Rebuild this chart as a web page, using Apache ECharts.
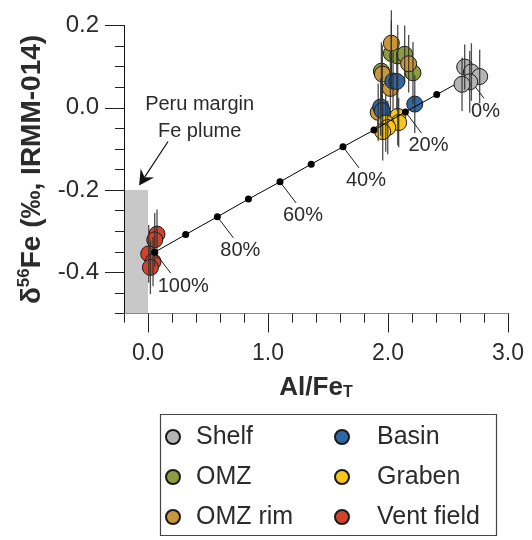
<!DOCTYPE html>
<html><head><meta charset="utf-8">
<script src="https://cdn.jsdelivr.net/npm/echarts@6/dist/echarts.min.js"></script>
<style>html,body{margin:0;padding:0;background:#fff}#c{width:532px;height:540px}</style>
</head><body><div id="c"></div>
<script>
const FONT = '"Liberation Sans", Arial, Helvetica, sans-serif';
const TXT = '#2b2b2b';

// Axis tick values
const xTickValues = [0, 1, 2, 3];
const yTickValues = [-0.4, -0.2, 0, 0.2];

// Grey "Peru margin Fe plume" band
const shadeX = [-0.2, 0];
const shadeY = [-0.5, -0.2];

// Sample groups: Al/FeT, d56Fe, error
const shelfX = [2.639, 2.695, 2.764, 2.681, 2.617];
const shelfY = [0.099, 0.087, 0.076, 0.063, 0.057];
const shelfE = [0.055, 0.07, 0.065, 0.075, 0.065];

const omzX = [1.945, 2.028, 2.081, 2.139, 2.208];
const omzY = [0.089, 0.132, 0.126, 0.130, 0.085];
const omzE = [0.07, 0.08, 0.075, 0.07, 0.075];

const omzRimX = [2.028, 1.953, 2.172, 2.020, 1.918];
const omzRimY = [0.157, 0.082, 0.107, 0.047, -0.011];
const omzRimE = [0.08, 0.07, 0.07, 0.07, 0.07];

const basinX = [2.042, 2.073, 2.223, 1.939, 1.952];
const basinY = [0.065, 0.064, 0.009, 0.002, -0.007];
const basinE = [0.07, 0.07, 0.07, 0.07, 0.07];

const grabenX = [2.081, 2.089, 1.981, 1.998, 1.956];
const grabenY = [-0.021, -0.036, -0.037, -0.048, -0.058];
const grabenE = [0.07, 0.06, 0.07, 0.065, 0.07];

const ventX = [0.075, 0.056, 0.006, 0.042, 0.020];
const ventY = [-0.307, -0.321, -0.355, -0.374, -0.388];
const ventE = [0.06, 0.065, 0.07, 0.06, 0.065];

// Mixing line (0% .. 100% vent fluid)
const mixX = [2.667, 2.406, 2.145, 1.883, 1.625, 1.360, 1.100, 0.837, 0.578, 0.314, 0.056];
const mixY = [0.074, 0.032, -0.010, -0.054, -0.095, -0.137, -0.180, -0.222, -0.265, -0.308, -0.351];
const mixLabels = ['0%', '', '20%', '', '40%', '', '60%', '', '80%', '', '100%'];

// Annotation (data coordinates)
const plumeText = ['Peru margin', 'Fe plume'];
const plumeTextPos = [[0.43, 0.007], [0.43, -0.057]];
const arrowFrom = [0.167, -0.082];
const arrowTip = [-0.074, -0.189];

const groups = [
  {name: 'Shelf', x: shelfX, y: shelfY, e: shelfE, color: '#b3b4b3', z: 6},
  {name: 'OMZ', x: omzX, y: omzY, e: omzE, color: '#8e9b40', z: 2},
  {name: 'OMZ rim', x: omzRimX, y: omzRimY, e: omzRimE, color: '#c9963b', z: 2},
  {name: 'Basin', x: basinX, y: basinY, e: basinE, color: '#3168a1', z: 2},
  {name: 'Graben', x: grabenX, y: grabenY, e: grabenE, color: '#f8c61d', z: 2},
  {name: 'Vent field', x: ventX, y: ventY, e: ventE, color: '#d1432a', z: 2}
];

const chart = echarts.init(document.getElementById('c'));

const series = [];
groups.forEach((g, gi) => {
  series.push({
    type: 'scatter', name: g.name, z: g.z,
    data: g.x.map((v, i) => [v, g.y[i]]),
    symbol: 'circle', symbolSize: 16,
    itemStyle: {color: g.color, borderColor: '#1a1a1a', borderWidth: 1, opacity: 1},
    emphasis: {disabled: true},
    markArea: gi === 0 ? {
      silent: true, z: 0,
      itemStyle: {color: '#c7c8c7'},
      data: [[{coord: [shadeX[0], shadeY[0]]}, {coord: [shadeX[1], shadeY[1]]}]]
    } : undefined
  });
  series.push({
    type: 'custom', name: g.name + ' err', z: g.z + 0.5,
    data: g.x.map((v, i) => [v, g.y[i] - g.e[i], g.y[i] + g.e[i]]),
    renderItem: (params, api) => {
      const p1 = api.coord([api.value(0), api.value(1)]);
      const p2 = api.coord([api.value(0), api.value(2)]);
      return {type: 'line', shape: {x1: p1[0], y1: p1[1], x2: p2[0], y2: p2[1]},
        style: {stroke: '#2e2e2e', lineWidth: 1.3, opacity: 0.85}};
    },
    silent: true
  });
});

series.push({
  type: 'line', name: 'mix', z: 4,
  data: mixX.map((v, i) => [v, mixY[i]]),
  symbol: 'circle', symbolSize: 7, showSymbol: true,
  lineStyle: {color: '#000', width: 1},
  itemStyle: {color: '#000', borderWidth: 0},
  emphasis: {disabled: true}, silent: true
});

series.push({
  type: 'custom', name: 'mixlabels', z: 4, silent: true,
  data: mixX.map((v, i) => [v, mixY[i], i]).filter(d => mixLabels[d[2]] !== ''),
  renderItem: (params, api) => {
    const p = api.coord([api.value(0), api.value(1)]);
    const txt = mixLabels[api.value(2)];
    return {type: 'group', children: [
      {type: 'line', shape: {x1: p[0], y1: p[1], x2: p[0] + 16, y2: p[1] + 21},
        style: {stroke: '#1a1a1a', lineWidth: 1}},
      {type: 'text', style: {text: txt, x: p[0] + 3, y: p[1] + 34, fill: TXT,
        fontSize: 20, fontFamily: FONT, align: 'left', verticalAlign: 'middle'}}
    ]};
  }
});

const legendCommon = {
  orient: 'vertical', top: 424, padding: 0, itemHeight: 14, itemWidth: 14, itemGap: 14,
  icon: 'circle', selectedMode: false
};

const option = {
  animation: false,
  backgroundColor: '#fff',
  textStyle: {fontFamily: FONT},
  grid: {left: 124, right: 24, top: 25.5, bottom: 226.5},
  xAxis: [
    {type: 'value', min: -0.2, max: 3, interval: 0.2, position: 'bottom',
      axisLine: {show: true, onZero: false, lineStyle: {color: '#8a8a8a', width: 1}},
      axisTick: {show: true, inside: false, length: 9, lineStyle: {color: '#222'}},
      axisLabel: {show: false}, splitLine: {show: false}},
    {type: 'value', min: -0.2, max: 3, position: 'bottom',
      axisLine: {show: false, onZero: false},
      axisTick: {show: true, inside: false, length: 19, customValues: xTickValues, lineStyle: {color: '#222'}},
      axisLabel: {show: true, customValues: xTickValues, formatter: v => v.toFixed(1),
        fontSize: 23, color: TXT, margin: 29, fontFamily: FONT},
      splitLine: {show: false},
      name: '{b|Al/Fe}{s|T}', nameLocation: 'middle', nameGap: 61,
      nameTextStyle: {rich: {
        b: {fontSize: 26, fontWeight: 'bold', color: TXT, fontFamily: FONT, lineHeight: 26, verticalAlign: 'top'},
        s: {fontSize: 16, fontWeight: 'bold', color: TXT, fontFamily: FONT, lineHeight: 16, verticalAlign: 'bottom', padding: [14, 0, 0, 0]}
      }}}
  ],
  yAxis: [
    {type: 'value', min: -0.5, max: 0.2, interval: 0.05, position: 'left',
      axisLine: {show: true, onZero: false, lineStyle: {color: '#111', width: 1}},
      axisTick: {show: true, inside: false, length: 9, lineStyle: {color: '#222'}},
      axisLabel: {show: false}, splitLine: {show: false}},
    {type: 'value', min: -0.5, max: 0.2, position: 'left',
      axisLine: {show: false, onZero: false},
      axisTick: {show: true, inside: false, length: 19, customValues: yTickValues, lineStyle: {color: '#222'}},
      axisLabel: {show: true, customValues: yTickValues, formatter: v => v.toFixed(1),
        fontSize: 24, color: TXT, margin: 25, fontFamily: FONT},
      splitLine: {show: false},
      name: '{b|δ}{p|56}{b|Fe (‰, IRMM-014)}', nameLocation: 'middle', nameRotate: 90, nameGap: 70,
      nameTextStyle: {rich: {
        b: {fontSize: 28, fontWeight: 'bold', color: TXT, fontFamily: FONT, lineHeight: 31, verticalAlign: 'bottom'},
        p: {fontSize: 17, fontWeight: 'bold', color: TXT, fontFamily: FONT, lineHeight: 17, verticalAlign: 'top'}
      }}}
  ],
  legend: [
    Object.assign({}, legendCommon, {left: 165, data: ['Shelf', 'OMZ', 'OMZ rim'],
      textStyle: {fontSize: 25, color: TXT, fontFamily: FONT, lineHeight: 26, padding: [0, 0, 0, 11]}}),
    Object.assign({}, legendCommon, {left: 334, data: ['Basin', 'Graben', 'Vent field'],
      textStyle: {fontSize: 25, color: TXT, fontFamily: FONT, lineHeight: 26, padding: [0, 0, 0, 23]}})
  ],
  series: series
};

chart.setOption(option);

function px(pt) { return chart.convertToPixel({xAxisIndex: 0, yAxisIndex: 0}, pt); }
const a0 = px(arrowFrom), a1 = px(arrowTip);
const dx = a1[0] - a0[0], dy = a1[1] - a0[1];
const L = Math.hypot(dx, dy), ux = dx / L, uy = dy / L, nx = -uy, ny = ux;
const headLen = 15, headW = 8, notch = 10;
const back = [a1[0] - ux * headLen, a1[1] - uy * headLen];
const nt = [a1[0] - ux * notch, a1[1] - uy * notch];
const graphics = [
  {type: 'line', shape: {x1: a0[0], y1: a0[1], x2: nt[0], y2: nt[1]}, style: {stroke: '#111', lineWidth: 1.2}},
  {type: 'polygon', shape: {points: [a1, [back[0] + nx * headW, back[1] + ny * headW], nt, [back[0] - nx * headW, back[1] - ny * headW]]},
    style: {fill: '#111'}},
  {type: 'rect', shape: {x: 160.5, y: 414.5, width: 336, height: 121}, style: {fill: 'none', stroke: '#444', lineWidth: 1.2}, z: 0}
];
plumeText.forEach((t, i) => {
  const p = px(plumeTextPos[i]);
  graphics.push({type: 'text', x: p[0], y: p[1], style: {text: t, fill: TXT, fontSize: 20, fontFamily: FONT, align: 'center', verticalAlign: 'middle'}});
});
chart.setOption({graphic: graphics});
</script>
</body></html>
